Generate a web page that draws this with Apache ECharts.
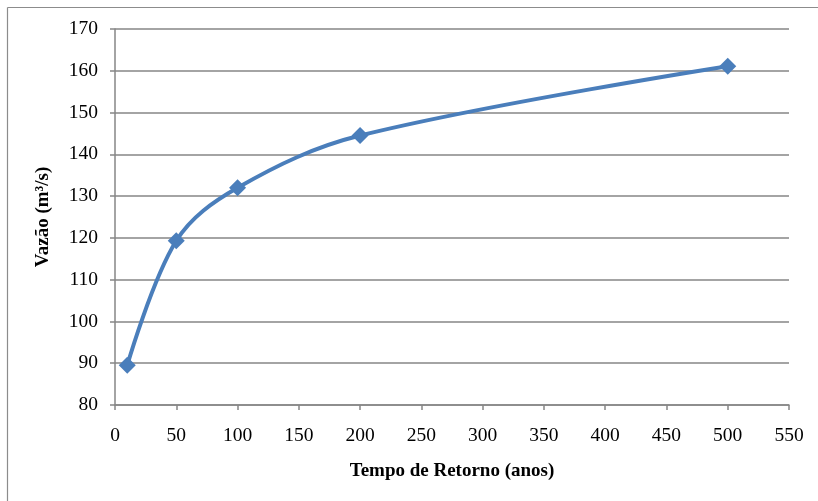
<!DOCTYPE html>
<html>
<head>
<meta charset="utf-8">
<script src="https://cdn.jsdelivr.net/npm/echarts@6/dist/echarts.min.js"></script>
<style>
html,body{margin:0;padding:0;background:#fff;}
#c{width:818px;height:501px;}
</style>
</head>
<body>
<div id="c"></div>
<script>
const returnPeriods = [10, 50, 100, 200, 500];
const flows = [89.5, 119.3, 132.0, 144.5, 161.1];
const xTitle = 'Tempo de Retorno (anos)';
const yTitle = 'Vazão (m³/s)';

const chart = echarts.init(document.getElementById('c'));
const serif = '"Liberation Serif", "DejaVu Serif", serif';
chart.setOption({
  animation: false,
  backgroundColor: '#fff',
  graphic: [
    {type: 'line', shape: {x1: 7.5, y1: 7.5, x2: 818, y2: 7.5}, style: {stroke: '#8c8c8c', lineWidth: 1.2}},
    {type: 'line', shape: {x1: 7.5, y1: 7.5, x2: 7.5, y2: 501}, style: {stroke: '#8c8c8c', lineWidth: 1.2}}
  ],
  grid: {left: 115, right: 29, top: 29, bottom: 96, containLabel: false},
  xAxis: {
    type: 'value', min: 0, max: 550, interval: 50,
    name: xTitle, nameLocation: 'middle', nameGap: 57,
    nameTextStyle: {fontFamily: serif, fontWeight: 'bold', fontSize: 19, color: '#000'},
    axisLine: {show: true, lineStyle: {color: '#868686', width: 1.5}},
    axisTick: {show: true, inside: false, length: 5, lineStyle: {color: '#868686', width: 1.5}},
    axisLabel: {fontFamily: serif, fontSize: 19.5, color: '#000', margin: 21},
    splitLine: {show: false}
  },
  yAxis: {
    type: 'value', min: 80, max: 170, interval: 10,
    name: yTitle, nameLocation: 'middle', nameGap: 62, nameRotate: 90,
    nameTextStyle: {fontFamily: serif, fontWeight: 'bold', fontSize: 19, color: '#000'},
    axisLine: {show: true, lineStyle: {color: '#868686', width: 1.5}},
    axisTick: {show: true, inside: false, length: 5, lineStyle: {color: '#868686', width: 1.5}},
    axisLabel: {fontFamily: serif, fontSize: 19.5, color: '#000', margin: 17},
    splitLine: {show: true, lineStyle: {color: '#868686', width: 1.5}}
  },
  series: [{
    type: 'line',
    data: returnPeriods.map((x, i) => [x, flows[i]]),
    smooth: 0.35,
    symbol: 'diamond',
    symbolSize: 17,
    lineStyle: {color: '#4a7ebb', width: 4},
    itemStyle: {color: '#4a7ebb'}
  }]
});
</script>
</body>
</html>
